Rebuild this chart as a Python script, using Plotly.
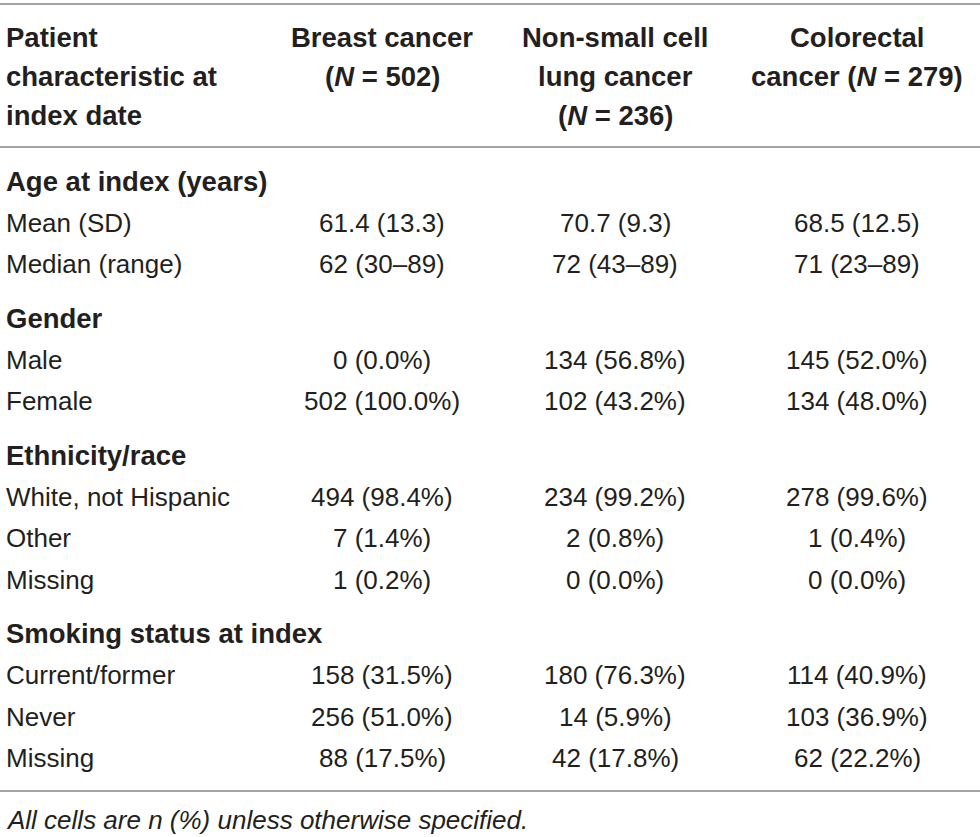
import plotly.graph_objects as go

# ---- data ----
stub_header = ["Patient", "characteristic at", "index date"]
col_headers = [
    ["Breast cancer", "(<i>N</i> = 502)"],
    ["Non-small cell", "lung cancer", "(<i>N</i> = 236)"],
    ["Colorectal", "cancer (<i>N</i> = 279)"],
]
row_labels = ["Age at index (years)", "Mean (SD)", "Median (range)",
              "Gender", "Male", "Female",
              "Ethnicity/race", "White, not Hispanic", "Other", "Missing",
              "Smoking status at index", "Current/former", "Never", "Missing"]
is_section = [True, False, False, True, False, False, True, False, False, False,
              True, False, False, False]
breast = ["", "61.4 (13.3)", "62 (30–89)", "", "0 (0.0%)", "502 (100.0%)",
          "", "494 (98.4%)", "7 (1.4%)", "1 (0.2%)",
          "", "158 (31.5%)", "256 (51.0%)", "88 (17.5%)"]
nsclc = ["", "70.7 (9.3)", "72 (43–89)", "", "134 (56.8%)", "102 (43.2%)",
         "", "234 (99.2%)", "2 (0.8%)", "0 (0.0%)",
         "", "180 (76.3%)", "14 (5.9%)", "42 (17.8%)"]
colorectal = ["", "68.5 (12.5)", "71 (23–89)", "", "145 (52.0%)", "134 (48.0%)",
              "", "278 (99.6%)", "1 (0.4%)", "0 (0.0%)",
              "", "114 (40.9%)", "103 (36.9%)", "62 (22.2%)"]
footnote = "All cells are n (%) unless otherwise specified."

# ---- layout geometry ----
W, H = 980, 837
FONT = "Liberation Sans, Arial, Helvetica, sans-serif"
TXT = "#231f20"
LINE = "#a3a3a3"
FS = 26
FS_BOLD = 27.5
col_x = [382, 615, 857]
stub_x = 4
header_y = [37, 76, 115]
row_gap = 41.5
section_gap = 54

# compute row y positions
row_y = []
y = 181
for i, sec in enumerate(is_section):
    if i > 0:
        y += section_gap if sec else row_gap
    row_y.append(y)

ann = []

def add(text, x, yy, xanchor="left", bold=False, size=None, italic=False, color=TXT):
    t = text
    if size is None:
        size = FS_BOLD if bold else FS
    if bold:
        t = "<b>" + t + "</b>"
    if italic:
        t = "<i>" + t + "</i>"
    ann.append(dict(text=t, x=x, y=yy, xref="x", yref="y", xanchor=xanchor,
                    yanchor="middle", showarrow=False,
                    font=dict(family=FONT, size=size, color=color)))

for i, line in enumerate(stub_header):
    add(line, stub_x, header_y[i], bold=True)
for c, lines in enumerate(col_headers):
    for i, line in enumerate(lines):
        add(line, col_x[c], header_y[i], xanchor="center", bold=True)

for i, lab in enumerate(row_labels):
    add(lab, stub_x, row_y[i], bold=is_section[i])
    for c, series in enumerate([breast, nsclc, colorectal]):
        if series[i]:
            add(series[i], col_x[c], row_y[i], xanchor="center")

add(footnote, stub_x, 820, italic=True, size=26)

shapes = []
for ly in [4, 147, 791]:
    shapes.append(dict(type="line", x0=0, x1=W, y0=ly, y1=ly, xref="x", yref="y",
                       line=dict(color=LINE, width=2)))

fig = go.Figure()
fig.update_layout(
    width=W, height=H,
    margin=dict(l=0, r=0, t=0, b=0),
    paper_bgcolor="white", plot_bgcolor="white",
    xaxis=dict(range=[0, W], visible=False, fixedrange=True),
    yaxis=dict(range=[H, 0], visible=False, fixedrange=True),
    annotations=ann, shapes=shapes, showlegend=False,
)
fig.write_html(
    "out.html",
    config={"displayModeBar": False},
    post_script="document.body.style.margin='0';document.body.style.overflow='hidden';",
)
